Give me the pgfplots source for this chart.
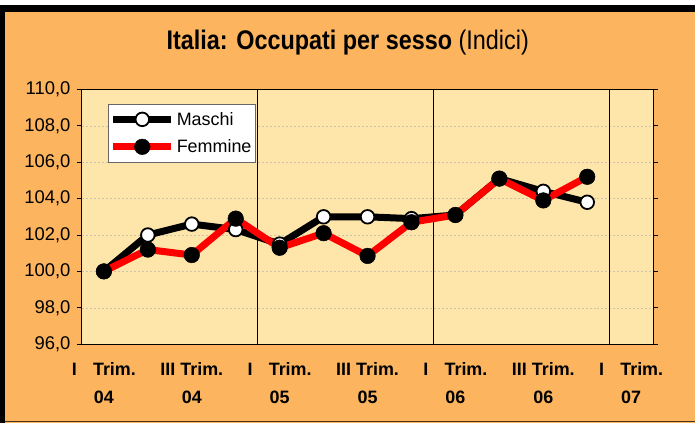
\documentclass[border=0pt]{standalone}
\usepackage{fontspec}
\setmainfont{Liberation Sans}
\usepackage{pgfplots}
\pgfplotsset{compat=1.18}
\definecolor{bgorange}{RGB}{252,180,94}
\definecolor{plotbg}{RGB}{254,230,170}
\definecolor{gridc}{RGB}{205,195,170}
\begin{document}
\begin{tikzpicture}[x=1bp,y=1bp]
\fill[white] (0,0) rectangle (696,423);
\fill[bgorange] (0,0) rectangle (696,412);
\fill[black] (0,411) rectangle (696,418);
\fill[black] (0,0) rectangle (5,418);
\draw[black!60!brown, line width=1.2bp] (5,0.8) -- (696,0.8);
\useasboundingbox (0,0) rectangle (696,423);
\node at (348,380) {\scalebox{1}[1.15]{\fontsize{23.5}{27}\selectfont\textbf{Italia: Occupati per sesso} (Indici)}};
\begin{axis}[
  at={(82bp,78.5bp)}, anchor=south west,
  width=571.7bp, height=255bp, scale only axis,
  xmin=0, xmax=13, ymin=96, ymax=110,
  axis background/.style={fill=plotbg},
  xtick={0.5,2.5,4.5,6.5,8.5,10.5,12.5},
  xticklabels={{I\hspace{0.9em}Trim.\\04},{III Trim.\\04},{I\hspace{0.9em}Trim.\\05},{III Trim.\\05},{I\hspace{0.9em}Trim.\\06},{III Trim.\\06},{I\hspace{0.9em}Trim.\\07}},
  xticklabel style={align=center, font=\fontsize{18}{28}\selectfont\bfseries, yshift=-10bp},
  x tick style={draw=none},
  ytick={96,98,...,110},
  yticklabel style={font=\fontsize{18.5}{20}\selectfont, xshift=-3bp},
  /pgf/number format/fixed, /pgf/number format/fixed zerofill,
  /pgf/number format/precision=1, /pgf/number format/use comma,
  /pgf/number format/assume math mode=true,
  ymajorgrids,
  major grid style={gridc, dash pattern=on 2bp off 2bp, line width=0.6bp},
  tick align=outside, major tick length=5bp,
  y tick style={black, line width=0.8bp},
  axis line style={black, line width=1bp},
  extra x ticks={4,8,12}, extra x tick labels={},
  extra x tick style={grid=major, major grid style={black, solid, line width=0.8bp}, major tick length=0},
  legend style={at={(0.045,0.943)}, anchor=north west, draw=gray!80!black, fill=white,
    font=\fontsize{18}{21}\selectfont, row sep=9bp, inner xsep=2bp, inner ysep=6bp},
  legend cell align=left,
  legend image code/.code={\draw[#1, mark repeat=2, mark phase=2] plot coordinates {(0bp,0bp) (29bp,0bp) (58bp,0bp)};},
]
\addplot[black, line width=7bp, line join=round, mark=*, mark size=6.8bp,
  mark options={fill=white, draw=black, line width=1.8bp}] coordinates {
  (0.5,100.0) (1.5,102.0) (2.5,102.6) (3.5,102.3) (4.5,101.5) (5.5,103.0)
  (6.5,103.0) (7.5,102.9) (8.5,103.1) (9.5,105.1) (10.5,104.4) (11.5,103.8)};
\addlegendentry{Maschi}
\addplot[red, line width=7bp, line join=round, mark=*, mark size=7.8bp,
  mark options={fill=black, draw=black, line width=0.5bp}] coordinates {
  (0.5,100.0) (1.5,101.2) (2.5,100.9) (3.5,102.9) (4.5,101.3) (5.5,102.1)
  (6.5,100.85) (7.5,102.7) (8.5,103.1) (9.5,105.1) (10.5,103.9) (11.5,105.2)};
\addlegendentry{Femmine}
\end{axis}
\end{tikzpicture}
\end{document}
